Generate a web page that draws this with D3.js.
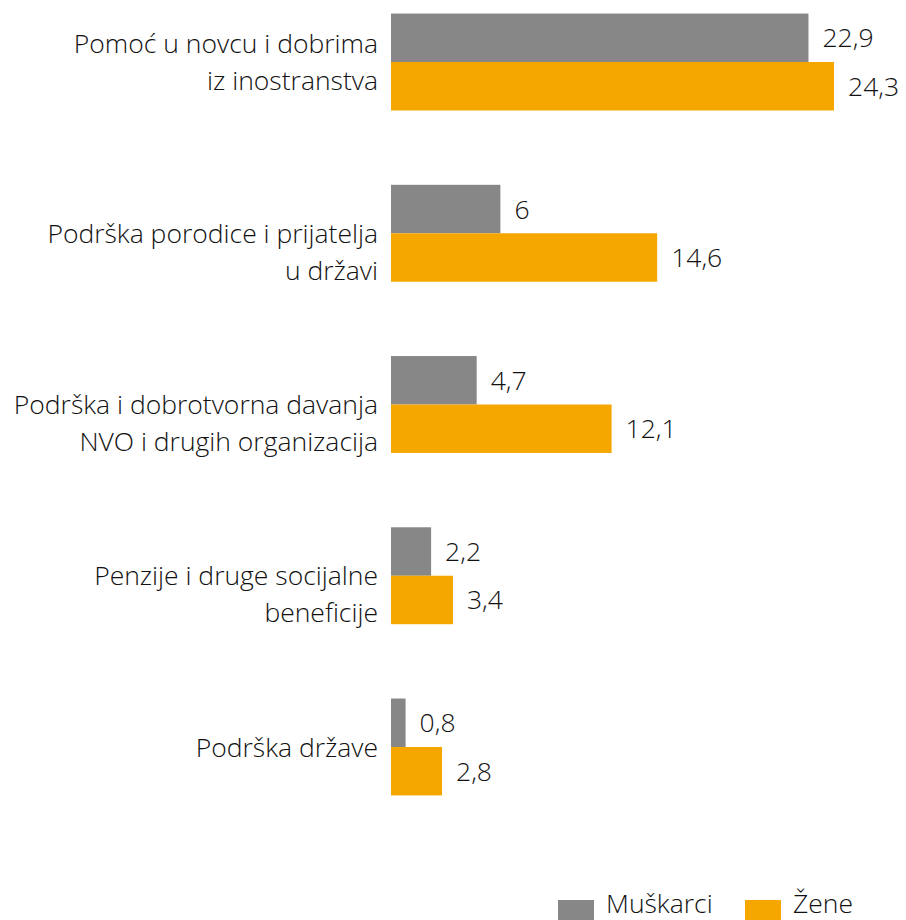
<!DOCTYPE html>
<html><head><meta charset="utf-8">
<script src="https://cdn.jsdelivr.net/npm/d3@7"></script>
<style>
html,body{margin:0;padding:0;background:#fff;}
svg{display:block;font-family:"Open Sans","Noto Sans",sans-serif;}
</style></head>
<body><svg id="chart" width="906" height="920"></svg>
<script>
const categories = [
  ["Pomoć u novcu i dobrima","iz inostranstva"],
  ["Podrška porodice i prijatelja","u državi"],
  ["Podrška i dobrotvorna davanja","NVO i drugih organizacija"],
  ["Penzije i druge socijalne","beneficije"],
  ["Podrška države"]
];
const seriesNames = ["Muškarci","Žene"];
const muskarci = [22.9, 6, 4.7, 2.2, 0.8];
const zene = [24.3, 14.6, 12.1, 3.4, 2.8];
const colors = ["#878787","#F5A700"];

const svg = d3.select("#chart");
const ids = categories.map((c,i)=>i);
const x = d3.scaleLinear().domain([0, 24.3]).range([391, 834]);
const y = d3.scaleBand().domain(ids).range([-23.6, 832.6]).paddingInner(0.434).paddingOuter(0.217);
const sub = d3.scaleBand().domain([0,1]).range([0, y.bandwidth()]);
const data = ids.map(i => ({i, vals:[muskarci[i], zene[i]]}));
const FS = 26.5;
const TXT = "#111";

const g = svg.selectAll("g.grp").data(data).join("g").attr("class","grp")
  .attr("transform", d => `translate(0,${y(d.i)})`);
g.selectAll("rect").data(d => d.vals.map((v,k)=>({v,k}))).join("rect")
  .attr("x", x(0)).attr("y", d => sub(d.k)).attr("height", sub.bandwidth())
  .attr("width", d => x(d.v)-x(0)).attr("fill", d => colors[d.k]);
g.selectAll("text.val").data(d => d.vals.map((v,k)=>({v,k}))).join("text").attr("class","val")
  .attr("x", d => x(d.v)+14).attr("y", d => sub(d.k)+sub.bandwidth()/2)
  .attr("dy","0.36em").attr("font-size",FS).attr("font-weight",300).attr("fill",TXT)
  .text(d => String(d.v).replace(".", ","));
g.each(function(d){
  const lines = categories[d.i];
  const t = d3.select(this).append("text").attr("text-anchor","end")
    .attr("font-size",FS).attr("font-weight",300).attr("fill",TXT);
  const c = y.bandwidth()/2;
  const lh = 37;
  // first group's label block is centred; the others start at the group centre
  const start = (d.i === 0) ? c - (lines.length-1)*lh/2 : c;
  lines.forEach((s,j)=>{
    t.append("tspan").attr("x",378).attr("y", start + j*lh).attr("dy","0.36em").text(s);
  });
});
// legend
const leg = svg.append("g");
const lx = [558, 745];
seriesNames.forEach((n,k)=>{
  leg.append("rect").attr("x",lx[k]).attr("y",900).attr("width",36).attr("height",20).attr("fill",colors[k]);
  leg.append("text").attr("x",lx[k]+48).attr("y",913).attr("font-size",FS).attr("font-weight",300).attr("fill",TXT).text(n);
});
</script></body></html>
